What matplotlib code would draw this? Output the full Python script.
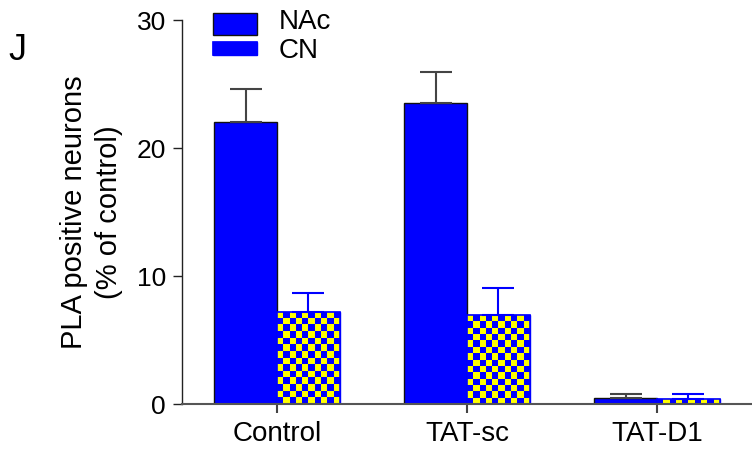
import matplotlib.pyplot as plt
import numpy as np
from matplotlib.colors import ListedColormap
from matplotlib.patches import Rectangle

groups = ["Control", "TAT-sc", "TAT-D1"]
nac_mean = [22.0, 23.5, 0.45]
nac_err = [2.6, 2.4, 0.3]
cn_mean = [7.2, 6.95, 0.4]
cn_err = [1.5, 2.1, 0.35]

BLUE = "#0000ff"
YELLOW = "#ffff00"

plt.rcParams["font.family"] = ["Liberation Sans", "DejaVu Sans"]


def checker_fill(ax, bar, cell_px=6.4):
    # yellow/blue checkerboard inside a bar, clipped to its outline
    x0, y0 = bar.get_x(), bar.get_y()
    w, h = bar.get_width(), bar.get_height()
    p0 = ax.transData.transform((x0, y0))
    p1 = ax.transData.transform((x0 + w, y0 + h))
    nx = max(1, int(round(abs(p1[0] - p0[0]) / cell_px)))
    ny = max(1, int(round(abs(p1[1] - p0[1]) / cell_px)))
    grid = np.add.outer(np.arange(ny), np.arange(nx)) % 2
    img = ax.imshow(grid, cmap=ListedColormap([BLUE, YELLOW]),
                    extent=(x0, x0 + w, y0, y0 + h), aspect="auto",
                    interpolation="nearest", origin="lower", zorder=2.1)
    img.set_clip_path(bar)
    # thin blue border on top of the pattern
    ax.add_patch(Rectangle((x0, y0), w, h, facecolor="none", edgecolor=BLUE,
                           linewidth=1.2, zorder=2.2, clip_on=False))


fig = plt.figure(figsize=(7.52, 4.51), dpi=100)
ax = fig.add_axes([182 / 752, 1 - 404 / 451, 1 - 182 / 752, 384 / 451])

x = np.arange(len(groups))
w = 0.33
ax.set_xlim(-0.5, 2.5)
ax.set_ylim(0, 30)
ax.set_autoscale_on(False)

nac_bars = ax.bar(x - w / 2, nac_mean, w, color=BLUE, edgecolor="#111111", linewidth=1.0, zorder=2)
cn_bars = ax.bar(x + w / 2, cn_mean, w, color=BLUE, edgecolor=BLUE, linewidth=1.0, zorder=2)

ax.errorbar(x - w / 2, nac_mean, yerr=[np.zeros(3), nac_err], fmt="none",
            ecolor="#444444", elinewidth=1.5, capsize=11.5, capthick=1.5, zorder=3)
ax.errorbar(x + w / 2, cn_mean, yerr=[np.zeros(3), cn_err], fmt="none",
            ecolor=BLUE, elinewidth=1.5, capsize=11.5, capthick=1.5, zorder=3)

for b in cn_bars:
    checker_fill(ax, b)

ax.set_xticks(x)
ax.set_xticklabels(groups)
ax.set_yticks([0, 10, 20, 30])
ax.tick_params(axis="x", length=6.5, width=1.5, color="#444444", labelsize=20, pad=6)
ax.tick_params(axis="y", length=6.5, width=1.0, color="#222222", labelsize=19, pad=5)
for s in ["top", "right"]:
    ax.spines[s].set_visible(False)
ax.spines["left"].set_linewidth(1.0)
ax.spines["left"].set_color("#222222")
ax.spines["bottom"].set_linewidth(1.5)
ax.spines["bottom"].set_color("#555555")

ax.set_ylabel("PLA positive neurons\n(% of control)", fontsize=21, labelpad=10, linespacing=1.3)

# hand-made legend so the checker swatch matches the bars
leg_nac = Rectangle((-0.337, 28.83), 0.232, 1.72, facecolor=BLUE, edgecolor="#111111",
                    linewidth=1.0, clip_on=False, zorder=4)
leg_cn = Rectangle((-0.337, 27.27), 0.232, 1.0, facecolor=BLUE, edgecolor=BLUE,
                   linewidth=1.0, clip_on=False, zorder=4)
ax.add_patch(leg_nac)
ax.add_patch(leg_cn)
checker_fill(ax, leg_cn)
ax.text(0.01, 29.84, "NAc", fontsize=20, va="center", ha="left")
ax.text(0.01, 27.58, "CN", fontsize=20, va="center", ha="left")

fig.text(8 / 752, 1 - 60 / 451, "J", fontsize=26, va="baseline")

fig.savefig("out.png", dpi=100)
